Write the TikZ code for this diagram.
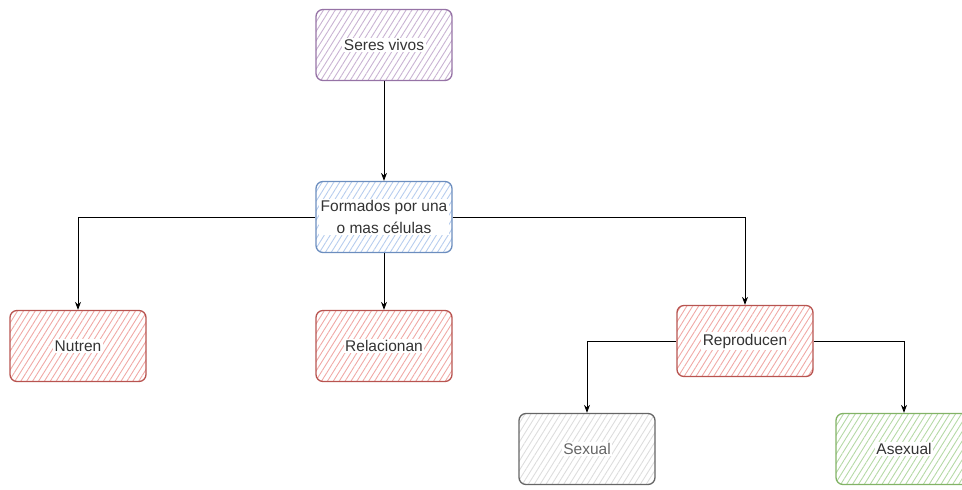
\documentclass[tikz,border=0pt]{standalone}
\usepackage{fontspec}
\setmainfont{Liberation Sans}
\usetikzlibrary{patterns.meta,arrows.meta}
\definecolor{purpS}{HTML}{9673A6}\definecolor{purpF}{HTML}{C9B3D3}
\definecolor{blueS}{HTML}{6C8EBF}\definecolor{blueF}{HTML}{B7CDEE}
\definecolor{redS}{HTML}{B85450}\definecolor{redF}{HTML}{F0A9A6}
\definecolor{grayS}{HTML}{666666}\definecolor{grayF}{HTML}{DDDDDD}
\definecolor{greenS}{HTML}{82B366}\definecolor{greenF}{HTML}{B5D9A6}
\definecolor{txt}{HTML}{333333}
\tikzset{
  box/.style n args={2}{draw=#1, line width=1.3pt, rounded corners=7pt,
    minimum width=136pt, minimum height=71pt, inner sep=0pt,
    pattern={Lines[angle=58,distance=5pt,line width=0.9pt]}, pattern color=#2},
  lbl/.style={fill=white, inner sep=1.5pt, text=txt, font=\fontsize{15.5}{22}\selectfont, align=center},
  conn/.style={draw=black, line width=1pt, -{Stealth[length=8pt,width=6pt]}}
}
\begin{document}
\begin{tikzpicture}[x=1pt,y=-1pt]
\useasboundingbox (0,0) rectangle (962,490);
\node[box={purpS}{purpF}] (seres) at (384,45) {};
\node[lbl] (tseres) at (seres) {Seres vivos};
\node[box={blueS}{blueF}] (form) at (384,217) {};
\node[lbl] (tform) at (form) {Formados por una\\o mas células};
\node[box={redS}{redF}] (nutren) at (78,346) {};
\node[lbl] (tnutren) at (nutren) {Nutren};
\node[box={redS}{redF}] (rel) at (384,346) {};
\node[lbl] (trel) at (rel) {Relacionan};
\node[box={redS}{redF}] (rep) at (745,341) {};
\node[lbl] (trep) at (rep) {Reproducen};
\node[box={grayS}{grayF}] (sex) at (587,449) {};
\node[lbl, text=grayS] (tsex) at (sex) {Sexual};
\node[box={greenS}{greenF}] (asex) at (904,449) {};
\node[lbl] (tasex) at (asex) {Asexual};
\draw[conn] (seres) -- (form);
\draw[conn] (form) -- (rel);
\draw[conn] (form.west) -| (nutren.north);
\draw[conn] (form.east) -| (rep.north);
\draw[conn] (rep.west) -| (sex.north);
\draw[conn] (rep.east) -| (asex.north);
\end{tikzpicture}
\end{document}
